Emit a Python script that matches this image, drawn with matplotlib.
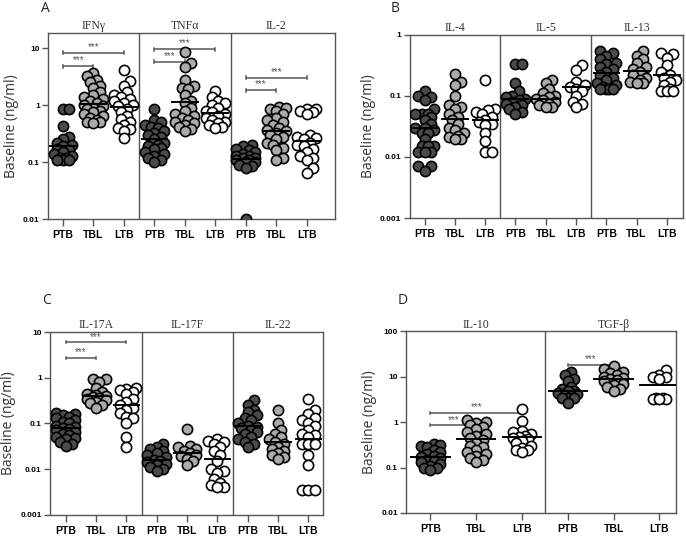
"""
Baseline cytokine levels (ng/ml) in PTB, TBL and LTB groups, four panels A-D.
"""
import numpy as np
import matplotlib
matplotlib.use("Agg")
import matplotlib.pyplot as plt

GROUPS = ["PTB", "TBL", "LTB"]

# ---- panel A ----
IFNG_PTB = [0.85, 0.85, 0.43, 0.28, 0.25, 0.22, 0.2, 0.19, 0.17, 0.16, 0.15, 0.14, 0.13, 0.12, 0.12, 0.11, 0.11, 0.11]
IFNG_TBL = [3.7, 3.2, 2.8, 2.5, 2.2, 2.0, 1.7, 1.5, 1.4, 1.3, 1.2, 1.1, 1.0, 0.95, 0.9, 0.85, 0.8, 0.75, 0.7,
            0.65, 0.6, 0.55, 0.5, 0.5, 0.48]
IFNG_LTB = [4.1, 2.7, 2.2, 1.7, 1.5, 1.4, 1.3, 1.2, 1.1, 1.0, 0.95, 0.85, 0.75, 0.65, 0.58, 0.5, 0.45, 0.4, 0.38,
            0.35, 0.26]
IFNG_MEAN = [0.19, 1.05, 0.93]

TNFA_PTB = [0.85, 0.55, 0.5, 0.45, 0.42, 0.4, 0.35, 0.32, 0.3, 0.28, 0.25, 0.22, 0.2, 0.19, 0.18, 0.17, 0.15,
            0.14, 0.13, 0.12, 0.11, 0.1]
TNFA_TBL = [8.7, 5.4, 4.6, 2.8, 2.2, 2.0, 1.9, 1.5, 1.2, 1.1, 0.9, 0.8, 0.7, 0.65, 0.6, 0.55, 0.5, 0.48, 0.45,
            0.42, 0.38, 0.35]
TNFA_LTB = [1.8, 1.4, 1.2, 1.1, 1.0, 0.9, 0.8, 0.75, 0.7, 0.65, 0.6, 0.55, 0.5, 0.48, 0.45, 0.42, 0.4]
TNFA_MEAN = [0.25, 1.15, 0.72]

IL2_PTB = [0.2, 0.19, 0.17, 0.16, 0.15, 0.14, 0.13, 0.13, 0.12, 0.12, 0.11, 0.11, 0.1, 0.1, 0.09, 0.085, 0.08, 0.01]
IL2_TBL = [0.92, 0.9, 0.85, 0.8, 0.7, 0.6, 0.55, 0.5, 0.45, 0.4, 0.37, 0.35, 0.33, 0.3, 0.28, 0.25, 0.22, 0.2,
           0.18, 0.16, 0.12, 0.11]
IL2_LTB = [0.87, 0.85, 0.8, 0.75, 0.7, 0.3, 0.28, 0.26, 0.25, 0.22, 0.2, 0.19, 0.17, 0.15, 0.13, 0.12, 0.11,
           0.08, 0.065]
IL2_MEAN = [0.115, 0.35, 0.23]

# ---- panel B ----
IL4_PTB = [0.12, 0.1, 0.095, 0.085, 0.06, 0.05, 0.05, 0.05, 0.045, 0.04, 0.035, 0.03, 0.03, 0.028, 0.025, 0.025,
           0.02, 0.015, 0.015, 0.015, 0.012, 0.012, 0.012, 0.007, 0.007, 0.006]
IL4_TBL = [0.23, 0.17, 0.15, 0.1, 0.07, 0.065, 0.06, 0.05, 0.045, 0.04, 0.035, 0.03, 0.028, 0.025, 0.022, 0.021,
           0.02, 0.02]
IL4_LTB = [0.18, 0.06, 0.058, 0.055, 0.05, 0.045, 0.04, 0.038, 0.035, 0.033, 0.025, 0.018, 0.012, 0.012]
IL4_MEAN = [0.03, 0.042, 0.04]

IL5_PTB = [0.33, 0.33, 0.16, 0.12, 0.1, 0.095, 0.09, 0.085, 0.08, 0.075, 0.07, 0.065, 0.06, 0.055, 0.05]
IL5_TBL = [0.18, 0.16, 0.13, 0.11, 0.1, 0.095, 0.09, 0.085, 0.08, 0.075, 0.07, 0.065, 0.065]
IL5_LTB = [0.32, 0.27, 0.17, 0.15, 0.14, 0.13, 0.12, 0.1, 0.08, 0.075, 0.065]
IL5_MEAN = [0.09, 0.088, 0.14]

IL13_PTB = [0.55, 0.5, 0.45, 0.4, 0.35, 0.33, 0.3, 0.28, 0.25, 0.22, 0.2, 0.18, 0.16, 0.15, 0.14, 0.13, 0.13,
            0.13, 0.13]
IL13_TBL = [0.55, 0.45, 0.4, 0.35, 0.3, 0.28, 0.25, 0.22, 0.2, 0.18, 0.17, 0.16, 0.16]
IL13_LTB = [0.5, 0.48, 0.42, 0.32, 0.25, 0.22, 0.2, 0.18, 0.17, 0.15, 0.13, 0.12, 0.12, 0.12]
IL13_MEAN = [0.24, 0.26, 0.22]

# ---- panel C ----
IL17A_PTB = [0.17, 0.16, 0.15, 0.14, 0.13, 0.12, 0.11, 0.1, 0.09, 0.085, 0.08, 0.075, 0.07, 0.065, 0.06, 0.055,
             0.05, 0.048, 0.045, 0.04, 0.035, 0.032]
IL17A_TBL = [0.95, 0.95, 0.8, 0.6, 0.5, 0.45, 0.42, 0.4, 0.38, 0.36, 0.35, 0.33, 0.3, 0.28, 0.25, 0.22]
IL17A_LTB = [0.6, 0.58, 0.55, 0.5, 0.45, 0.35, 0.3, 0.25, 0.22, 0.2, 0.17, 0.14, 0.13, 0.1, 0.05, 0.03]
IL17A_MEAN = [0.08, 0.4, 0.25]

IL17F_PTB = [0.035, 0.03, 0.028, 0.025, 0.022, 0.02, 0.018, 0.016, 0.015, 0.014, 0.013, 0.012, 0.011, 0.01, 0.009]
IL17F_TBL = [0.075, 0.032, 0.03, 0.028, 0.025, 0.022, 0.02, 0.019, 0.017, 0.015, 0.012]
IL17F_LTB = [0.045, 0.042, 0.04, 0.035, 0.03, 0.025, 0.02, 0.015, 0.01, 0.009, 0.008, 0.006, 0.005, 0.0045,
             0.004, 0.004]
IL17F_MEAN = [0.016, 0.022, 0.017]

IL22_PTB = [0.32, 0.25, 0.2, 0.18, 0.15, 0.13, 0.12, 0.1, 0.09, 0.085, 0.08, 0.07, 0.065, 0.06, 0.05, 0.045,
            0.04, 0.035, 0.03]
IL22_TBL = [0.2, 0.1, 0.07, 0.06, 0.05, 0.045, 0.04, 0.035, 0.03, 0.028, 0.025, 0.022, 0.02, 0.018, 0.017]
IL22_LTB = [0.35, 0.2, 0.16, 0.13, 0.12, 0.1, 0.09, 0.07, 0.06, 0.055, 0.05, 0.035, 0.035, 0.035, 0.02, 0.012,
            0.0035, 0.0035, 0.0035]
IL22_MEAN = [0.09, 0.04, 0.045]

# ---- panel D ----
IL10_PTB = [0.33, 0.32, 0.3, 0.28, 0.25, 0.22, 0.2, 0.18, 0.17, 0.16, 0.15, 0.14, 0.13, 0.12, 0.11, 0.1, 0.1, 0.09]
IL10_TBL = [1.1, 1.0, 0.95, 0.85, 0.8, 0.7, 0.6, 0.55, 0.5, 0.45, 0.4, 0.35, 0.3, 0.28, 0.25, 0.22, 0.2, 0.18,
            0.16, 0.15, 0.13]
IL10_LTB = [2.0, 1.05, 0.65, 0.6, 0.55, 0.5, 0.48, 0.45, 0.42, 0.38, 0.35, 0.3, 0.27, 0.25, 0.24, 0.22]
IL10_MEAN = [0.17, 0.42, 0.48]

TGFB_PTB = [13, 11, 9, 8, 6, 5.5, 5, 4.8, 4.5, 4.2, 4, 3.8, 3.5, 3.5, 3.5, 2.7]
TGFB_TBL = [17, 15, 13, 12, 11, 10, 9.5, 9, 8.5, 8, 7, 6.5, 6, 5.5, 5]
TGFB_LTB = [14, 11, 10, 10, 9, 3.5, 3.5, 3.3, 3.3, 3.2]
TGFB_MEAN = [4.8, 9.0, 6.5]

FILLS = ["#4a4a4a", "#ababab", "#ffffff"]
AXCOL = "#555555"

plt.rcParams["font.family"] = ["Liberation Sans", "DejaVu Sans"]

fig = plt.figure(figsize=(6.86, 5.37), dpi=100)


def swarm(ax, xc, vals, diam=10.5, max_half=9.5):
    """Beeswarm-like x offsets (data units) computed in pixel space, overlap allowed."""
    pts = ax.transData.transform(np.column_stack([np.full(len(vals), xc), vals]))
    ypx = pts[:, 1]
    px_per_x = ax.transData.transform([[1, 1]])[0, 0] - ax.transData.transform([[0, 1]])[0, 0]
    order = np.argsort(ypx)
    placed = []
    offs = np.zeros(len(vals))
    step = diam * 0.3
    cands = [0.0]
    k = 1
    while k * step <= max_half:
        cands += [k * step, -k * step]
        k += 1
    for i in order:
        y = ypx[i]
        best, best_d = 0.0, -1
        for c in cands:
            d = min([np.hypot(c - px, y - py) for px, py in placed] or [1e9])
            if d >= diam * 0.6:
                best = c
                break
            if d > best_d:
                best, best_d = c, d
        placed.append((best, y))
        offs[i] = best / px_per_x
    return offs


def bracket(ax, x0, x1, y):
    fy = 1.06
    ax.plot([x0, x1], [y, y], color=AXCOL, lw=1.1, solid_capstyle="butt")
    for xx in (x0, x1):
        ax.plot([xx, xx], [y / fy, y * fy], color=AXCOL, lw=1.1)
    ax.text((x0 + x1) / 2, y * 1.03, "***", ha="center", va="bottom", fontsize=7,
            color=AXCOL, family=["Liberation Sans"])


def draw_panel(rect, ylim, xlim, sections, yticks, ylabels, letter, letter_xy, brackets):
    ax = fig.add_axes(rect)
    ax.set_yscale("log")
    ax.set_ylim(*ylim)
    ax.set_xlim(*xlim)
    n_groups = len(sections)
    xticks = []
    for si, (title, data, means) in enumerate(sections):
        for gi, vals in enumerate(data):
            xc = si * 3 + gi
            xticks.append(xc)
            offs = swarm(ax, xc, vals)
            ax.scatter(xc + offs, vals, s=54, facecolor=FILLS[gi], edgecolor="black",
                       linewidth=1.2, zorder=3)
            ax.plot([xc - 0.42, xc + 0.42], [means[gi], means[gi]], color="black", lw=1.4, zorder=4)
        ax.text(si * 3 + 1, ylim[1] * 1.05, title, ha="center", va="bottom", fontsize=8.5,
                color="#333333", family=["Liberation Serif", "DejaVu Serif"])
    for si in range(1, n_groups):
        ax.axvline(si * 3 - 0.5, color=AXCOL, lw=1.0)
    ax.set_xticks(xticks)
    ax.set_xticklabels(GROUPS * n_groups, fontsize=7.5, fontweight="bold")
    ax.set_yticks(yticks)
    ax.set_yticklabels(ylabels, fontsize=6, fontweight="bold")
    ax.minorticks_off()
    ax.tick_params(axis="both", direction="out", length=4, width=1, color=AXCOL, pad=2)
    ax.tick_params(axis="x", length=5, pad=3)
    for sp in ax.spines.values():
        sp.set_color(AXCOL)
        sp.set_linewidth(1.0)
    ax.set_ylabel("Baseline (ng/ml)", fontsize=10, color="#333333", family=["Open Sans", "DejaVu Sans"],
                  labelpad=3)
    for x0, x1, y in brackets:
        bracket(ax, x0, x1, y)
    fig.text(letter_xy[0], letter_xy[1], letter, fontsize=10, color="#222222",
             family=["Open Sans", "DejaVu Sans"], ha="left", va="center")
    return ax


draw_panel([0.070, 0.592, 0.418, 0.346], (0.01, 10 ** 1.26), (-0.49, 8.92),
           [("IFNγ", [IFNG_PTB, IFNG_TBL, IFNG_LTB], IFNG_MEAN),
            ("TNFα", [TNFA_PTB, TNFA_TBL, TNFA_LTB], TNFA_MEAN),
            ("IL-2", [IL2_PTB, IL2_TBL, IL2_LTB], IL2_MEAN)],
           [0.01, 0.1, 1, 10], ["0.01", "0.1", "1", "10"], "A", (0.060, 0.985),
           [(0, 1, 4.8), (0, 2, 8.3), (3, 4, 5.8), (3, 5, 9.6), (6, 7, 1.83), (6, 8, 3.0)])

draw_panel([0.597, 0.594, 0.398, 0.341], (0.001, 1), (-0.5, 8.52),
           [("IL-4", [IL4_PTB, IL4_TBL, IL4_LTB], IL4_MEAN),
            ("IL-5", [IL5_PTB, IL5_TBL, IL5_LTB], IL5_MEAN),
            ("IL-13", [IL13_PTB, IL13_TBL, IL13_LTB], IL13_MEAN)],
           [0.001, 0.01, 0.1, 1], ["0.001", "0.01", "0.1", "1"], "B", (0.570, 0.985), [])

draw_panel([0.073, 0.0415, 0.398, 0.340], (0.001, 10), (-0.52, 8.49),
           [("IL-17A", [IL17A_PTB, IL17A_TBL, IL17A_LTB], IL17A_MEAN),
            ("IL-17F", [IL17F_PTB, IL17F_TBL, IL17F_LTB], IL17F_MEAN),
            ("IL-22", [IL22_PTB, IL22_TBL, IL22_LTB], IL22_MEAN)],
           [0.001, 0.01, 0.1, 1, 10], ["0.001", "0.01", "0.1", "1", "10"], "C", (0.062, 0.44),
           [(0, 1, 2.7), (0, 2, 6.0)])

draw_panel([0.592, 0.0447, 0.394, 0.338], (0.01, 100), (-0.53, 5.37),
           [("IL-10", [IL10_PTB, IL10_TBL, IL10_LTB], IL10_MEAN),
            ("TGF-β", [TGFB_PTB, TGFB_TBL, TGFB_LTB], TGFB_MEAN)],
           [0.01, 0.1, 1, 10, 100], ["0.01", "0.1", "1", "10", "100"], "D", (0.580, 0.44),
           [(0, 1, 0.86), (0, 2, 1.6), (3, 4, 18.5)])

fig.savefig("out.png", dpi=100)
